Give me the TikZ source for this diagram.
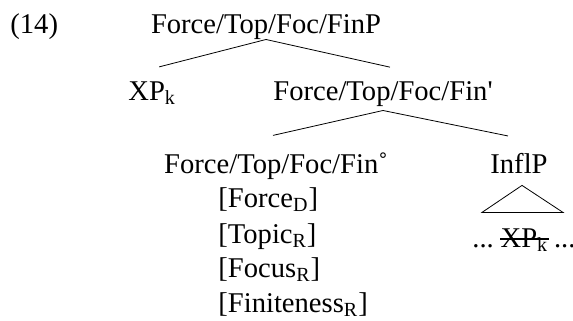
\documentclass[tikz,border=0pt]{standalone}
\usepackage{fontspec}
\setmainfont{Liberation Serif}[Ligatures=TeXOff]
\usepackage{tikz}

\begin{document}
\begin{tikzpicture}[x=0.5pt,y=-0.5pt,
  every node/.style={inner sep=0pt,font=\fontsize{14.3}{17}\selectfont},
  lbl/.style={anchor=base},
  feat/.style={anchor=base west}]
\useasboundingbox (0,0) rectangle (573,321);
\node[feat] (ex) at (10,33) {(14)};
\node[lbl] (top) at (266,33) {Force/Top/Foc/FinP};
\node[feat] (xp) at (128,100) {XP\textsubscript{k}};
\node[lbl] (bar) at (383,100) {Force/Top/Foc/Fin'};
\node[lbl] (fin) at (276,173) {Force/Top/Foc/Fin˚};
\node[lbl] (infl) at (519,173) {InflP};
\node[feat] (fd) at (218,207) {[Force\textsubscript{D}]};
\node[feat] (tr) at (218,243) {[Topic\textsubscript{R}]};
\node[feat] (fr) at (218,277) {[Focus\textsubscript{R}]};
\node[feat] (finr) at (218,312) {[Finiteness\textsubscript{R}]};
\node[feat] (dl) at (472,247) {...};
\node[feat] (trace) at ([xshift=3pt]dl.base east) {XP\textsubscript{k}};
\node[feat] (dr) at ([xshift=2.5pt]trace.base east) {...};
\draw[line width=0.9pt] ([yshift=4pt]trace.base west) -- ([yshift=4pt]trace.base east);
\draw (top.south) -- ([xshift=3.5pt,yshift=7pt]xp.north);
\draw (top.south) -- ([xshift=3.5pt,yshift=6.75pt]bar.north);
\draw ([yshift=-2pt]bar.south) -- ([xshift=-1.5pt,yshift=8.25pt]fin.north);
\draw ([yshift=-2pt]bar.south) -- ([xshift=-5.5pt,yshift=8.25pt]infl.north);
\draw ([xshift=1.5pt,yshift=-6pt]infl.south) -- ++(-40,27) -- ++(81,0) -- cycle;
\end{tikzpicture}
\end{document}
